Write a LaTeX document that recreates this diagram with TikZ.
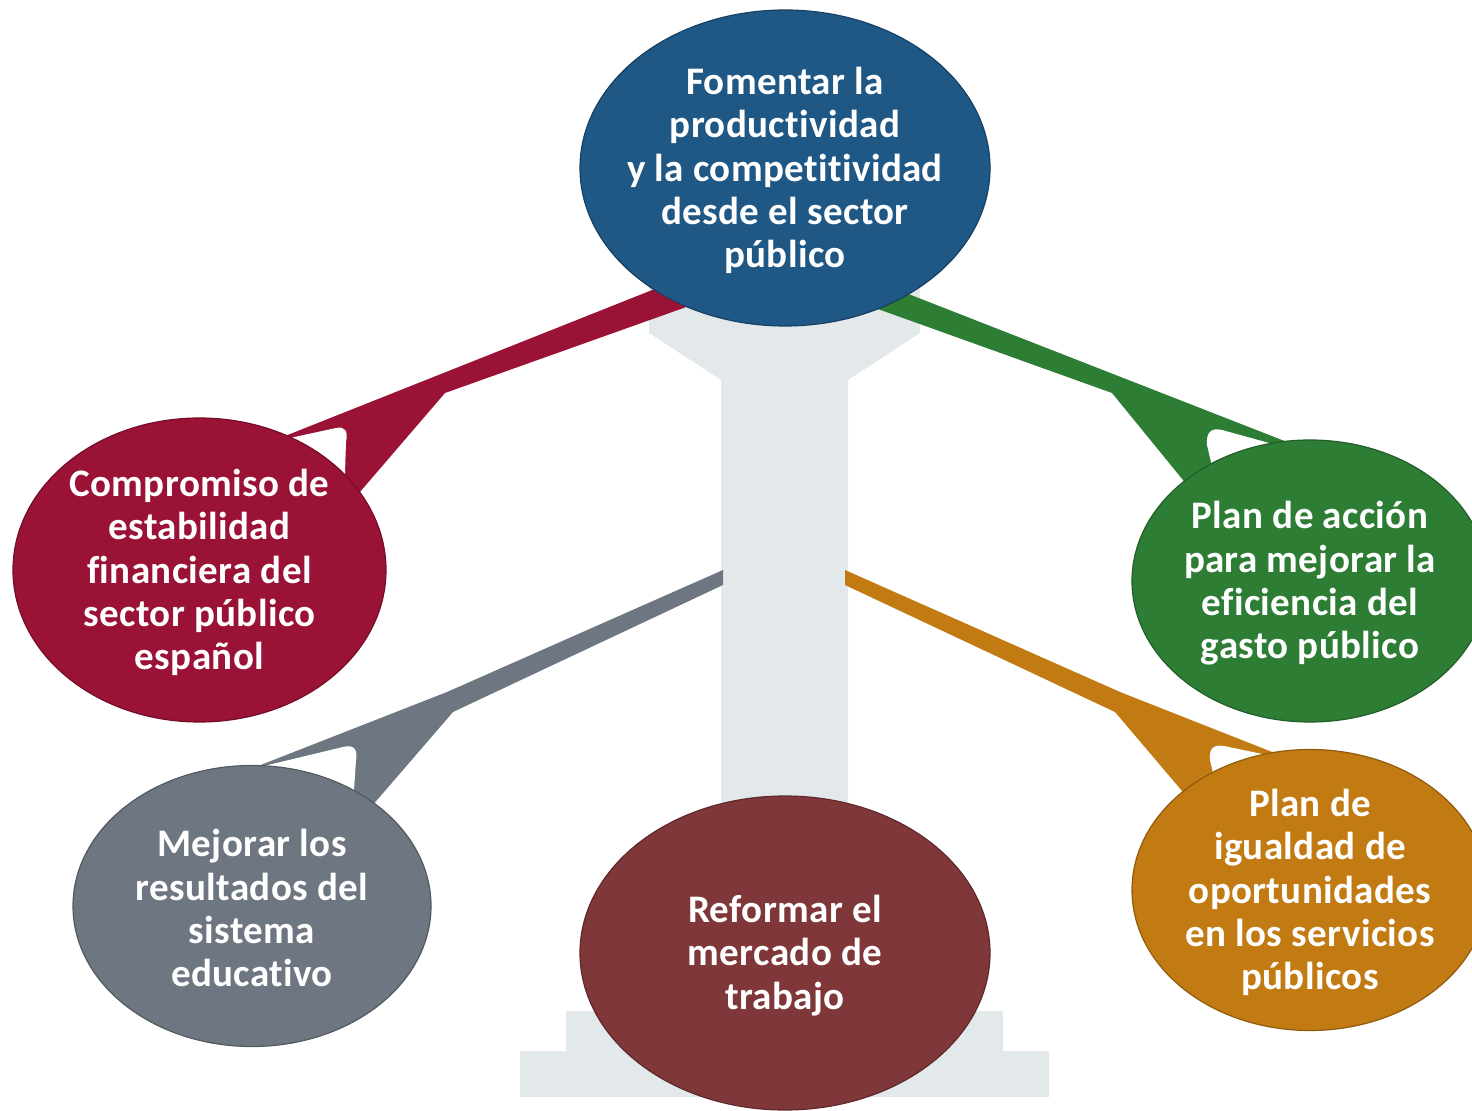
\documentclass[tikz,border=0pt]{standalone}
\usepackage{fontspec}
\setmainfont{Carlito}[Ligatures=NoCommon, LetterSpace=1.0]
\usepackage{xcolor}
\usetikzlibrary{positioning}

\definecolor{azul}{HTML}{1F5785}
\definecolor{granate}{HTML}{9A1235}
\definecolor{verde}{HTML}{2D7D35}
\definecolor{gris}{HTML}{6E7781}
\definecolor{marron}{HTML}{7F3739}
\definecolor{naranja}{HTML}{C27A12}
\definecolor{pilar}{HTML}{E3E8EB}

\tikzset{
    bubble/.style={fill=#1, draw=#1!75!black, line width=0.6pt},
    texto/.style={text=white, align=center, inner sep=0pt, yshift=-1.2pt,
        font=\bfseries\fontsize{19.5}{21.65}\selectfont},
    hueco/.style={fill=white}
}

\begin{document}
\begin{tikzpicture}[x=0.5pt, y=-0.5pt]
        \useasboundingbox (0,0) rectangle (1472,1111);
        \clip (0,0) rectangle (1472,1111);

        \fill[pilar] (649,250) -- (649,333) -- (721,380) -- (721,1011) -- (566,1011)
            -- (566,1051) -- (520,1051) -- (520,1097) -- (1049,1097) -- (1049,1051)
            -- (1003,1051) -- (1003,1011) -- (848,1011) -- (848,380) -- (920,333)
            -- (920,250) -- cycle;

        \coordinate (c1) at (785,168);
        \coordinate (c2) at (199.5,570);
        \coordinate (c3) at (1310,581);
        \coordinate (c4) at (252,906);
        \coordinate (c5) at (785,953);
        \coordinate (c6) at (1310,890);

        \coordinate (kneeR) at (445,393);
        \coordinate (kneeV) at (1112,393);
        \coordinate (kneeG) at (453,712);
        \coordinate (kneeN) at (1115,712);

        \fill[granate] (700,271) -- (270,442) -- (335,521) -- (kneeR) -- (720,295) -- cycle;
        \fill[hueco] (290,438) -- (336,428) .. controls (346,426) and (348,432) .. (346,442)
            -- (345,473) -- (346,500) -- (290,500) -- cycle;

        \fill[verde] (870,279) -- (1305,449) -- (1205,507) -- (kneeV) -- (850,299) -- cycle;
        \fill[hueco] (1280,446) -- (1222,430) .. controls (1210,427) and (1206,434) .. (1207,445)
            -- (1211,462) -- (1213,500) -- (1280,500) -- cycle;

        \fill[gris] (723,570) -- (447,692) -- (230,777) -- (340,843) -- (kneeG) -- (723,585) -- cycle;
        \fill[hueco] (264,766) -- (343,747) .. controls (354,744) and (358,750) .. (356,760)
            -- (354,790) -- (354,810) -- (264,810) -- cycle;

        \fill[naranja] (845,570) -- (1120,692) -- (1295,761) -- (1205,818) -- (kneeN) -- (845,585) -- cycle;
        \fill[hueco] (1272,756) -- (1224,746) .. controls (1212,744) and (1209,750) .. (1210,760)
            -- (1213,773) -- (1215,810) -- (1272,810) -- cycle;

        \path[bubble=azul] (c1) ellipse [x radius=102.5pt, y radius=79pt];
        \path[bubble=granate] (c2) ellipse [x radius=93.25pt, y radius=76pt];
        \path[bubble=verde] (c3) ellipse [x radius=89pt, y radius=70.5pt];
        \path[bubble=gris] (c4) ellipse [x radius=89.5pt, y radius=70.25pt];
        \path[bubble=marron] (c5) ellipse [x radius=102.5pt, y radius=78.5pt];
        \path[bubble=naranja] (c6) ellipse [x radius=89pt, y radius=70.25pt];

        \node[texto] (prod) at (c1) {Fomentar la\\productividad\\y la competitividad\\desde el sector\\público};
        \node[texto] (estab) at (c2) {Compromiso de\\estabilidad\\financiera del\\sector público\\español};
        \node[texto] (gasto) at (c3) {Plan de acción\\para mejorar la\\eficiencia del\\gasto público};
        \node[texto] (educ) at (c4) {Mejorar los\\resultados del\\sistema\\educativo};
        \node[texto] (trabajo) at (c5) {Reformar el\\mercado de\\trabajo};
        \node[texto] (igual) at (c6) {Plan de\\igualdad de\\oportunidades\\en los servicios\\públicos};
\end{tikzpicture}
\end{document}
